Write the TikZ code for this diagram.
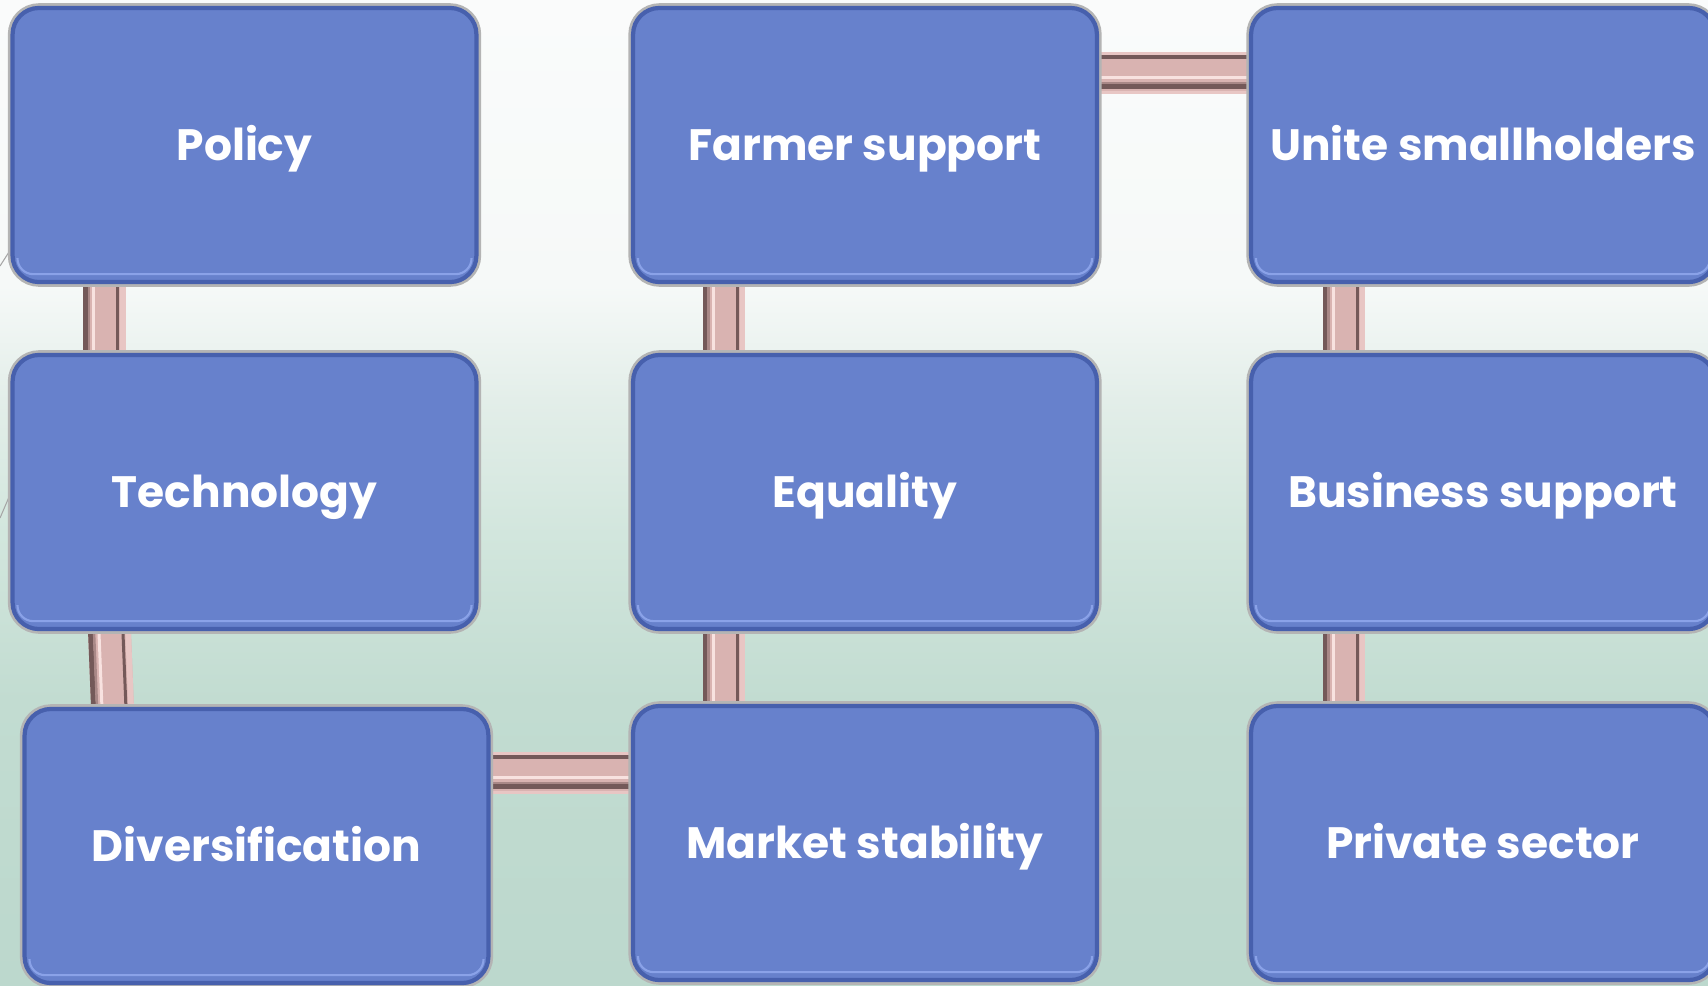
\documentclass[tikz,border=0pt]{standalone}
\usepackage{fontspec}
\newfontfamily\lblfont{Poppins}
\usetikzlibrary{calc}
\definecolor{boxblue}{HTML}{6781CC}
\definecolor{boxdark}{HTML}{4760AD}
\definecolor{bevel}{HTML}{8AA2E8}
\definecolor{rimgray}{HTML}{B4B4B4}
\definecolor{tubebase}{HTML}{D9B3B1}
\definecolor{tubedark}{HTML}{745959}
\definecolor{tubemid}{HTML}{A98887}
\definecolor{tubehi}{HTML}{F8E2E0}
\definecolor{tubelight}{HTML}{E8C6C4}
\definecolor{bgtop}{HTML}{FAFBFB}
\definecolor{bgA}{HTML}{F6F9F8}
\definecolor{bgB}{HTML}{E3EEE9}
\definecolor{bgC}{HTML}{D2E6DD}
\definecolor{bgD}{HTML}{C2DCD1}
\definecolor{bgbot}{HTML}{BCD8CD}
\pgfdeclareverticalshading{bgsh}{100bp}{color(0bp)=(bgbot); color(25bp)=(bgbot); color(39.5bp)=(bgD); color(47.9bp)=(bgC); color(54.7bp)=(bgB); color(60.5bp)=(bgA); color(75bp)=(bgtop); color(100bp)=(bgtop)}
\pgfdeclarelayer{bglayer}
\pgfdeclarelayer{tubelayer}
\pgfsetlayers{bglayer,tubelayer,main}
\tikzset{
  box/.style={rectangle, rounded corners=15pt, minimum width=264pt, minimum height=156pt,
    inner sep=0pt, fill=boxblue, draw=boxdark, line width=2.4pt, text=white,
    font=\lblfont\bfseries\fontsize{25}{28}\selectfont,
    text height=19.5pt, text depth=2.2pt,
    preaction={draw=rimgray, line width=5.4pt}},
  bevelline/.style={draw=bevel, line width=1.2pt, rounded corners=9pt},
  edgeline/.style={draw=gray!70, line width=0.6pt}
}
\newcommand\mytubev[2]{%
  \draw[line width=24.4pt, tubebase] #1 -- #2;
  \draw[line width=2.8pt, tubedark, transform canvas={xshift=-10.8pt}] #1 -- #2;
  \draw[line width=1.4pt, tubemid, transform canvas={xshift=-8.8pt}] #1 -- #2;
  \draw[line width=1.7pt, tubehi, transform canvas={xshift=-6pt}] #1 -- #2;
  \draw[line width=1.7pt, tubedark, transform canvas={xshift=7.65pt}] #1 -- #2;
  \draw[line width=3.2pt, tubelight, transform canvas={xshift=10.6pt}] #1 -- #2;
}
\newcommand\mytubeh[2]{%
  \draw[line width=24pt, tubebase] #1 -- #2;
  \draw[line width=2pt, tubelight, transform canvas={yshift=11pt}] #1 -- #2;
  \draw[line width=2.3pt, tubedark, transform canvas={yshift=9pt}] #1 -- #2;
  \draw[line width=1.7pt, tubehi, transform canvas={yshift=-2.55pt}] #1 -- #2;
  \draw[line width=2.8pt, tubedark, transform canvas={yshift=-7.9pt}] #1 -- #2;
  \draw[line width=1.2pt, tubemid, transform canvas={yshift=-5.9pt}] #1 -- #2;
  \draw[line width=1.8pt, tubelight, transform canvas={yshift=-11pt}] #1 -- #2;
}
\begin{document}
\begin{tikzpicture}[x=0.02cm, y=-0.02cm]
\useasboundingbox (0,0) rectangle (1708,985);
\begin{pgfonlayer}{bglayer}
  \shade[shading=bgsh] (0,0) rectangle (1708,985);
\end{pgfonlayer}
% boxes
\node[box] (policy)   at (244.5,145) {Policy};
\node[box] (tech)     at (244.5,492) {Technology};
\node[box] (div)      at (256.5,846) {Diversification};
\node[box] (farmer)   at (865,145)   {Farmer support};
\node[box] (equality) at (865,492)   {Equality};
\node[box] (market)   at (865,843)   {Market stability};
\node[box] (unite)    at (1483,145)  {Unite smallholders};
\node[box] (business) at (1483,492)  {Business support};
\node[box] (private)  at (1483,843)  {Private sector};
% bevel lines
\foreach \n in {policy,tech,div,farmer,equality,market,unite,business,private}{
  \draw[bevelline] ([shift={(7,-26)}]\n.south west) -- ([shift={(7,-10)}]\n.south west)
     -- ([shift={(-7,-10)}]\n.south east) -- ([shift={(-7,-26)}]\n.south east);
}
% connector end points
\coordinate (c1a) at ($(policy.south west)+(94,0)$);
\coordinate (c1b) at (c1a |- tech.north);
\coordinate (c2a) at ($(tech.south west)+(99,0)$);
\coordinate (c2b) at ($(div.north west)+(90,0)$);
\coordinate (c3a) at ($(farmer.south west)+(93,0)$);
\coordinate (c3b) at (c3a |- equality.north);
\coordinate (c4a) at ($(equality.south west)+(93,0)$);
\coordinate (c4b) at (c4a |- market.north);
\coordinate (c5a) at ($(unite.south west)+(95,0)$);
\coordinate (c5b) at (c5a |- business.north);
\coordinate (c6a) at ($(business.south west)+(95,0)$);
\coordinate (c6b) at (c6a |- private.north);
\coordinate (h1a) at ($(farmer.north east)+(0,67)$);
\coordinate (h1b) at (h1a -| unite.west);
\coordinate (h2a) at ($(div.north east)+(0,66)$);
\coordinate (h2b) at (h2a -| market.west);
\begin{pgfonlayer}{tubelayer}
  \mytubev{(c1a)}{(c1b)}
  \mytubev{(c2a)}{(c2b)}
  \mytubev{(c3a)}{(c3b)}
  \mytubev{(c4a)}{(c4b)}
  \mytubev{(c5a)}{(c5b)}
  \mytubev{(c6a)}{(c6b)}
  \mytubeh{(h1a)}{(h1b)}
  \mytubeh{(h2a)}{(h2b)}
  % small stray lines at the left edge
  \coordinate (s1a) at (0,266);
  \coordinate (s1b) at (9,252);
  \coordinate (s2a) at (0,518);
  \coordinate (s2b) at (9,497);
  \draw[edgeline] (s1a) -- (s1b);
  \draw[edgeline] (s2a) -- (s2b);
\end{pgfonlayer}
\end{tikzpicture}
\end{document}
